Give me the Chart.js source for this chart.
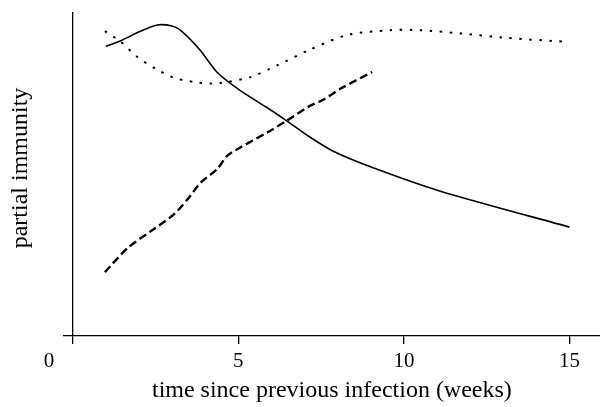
<!DOCTYPE html>
<html>
<head>
<meta charset="utf-8">
<script src="https://cdn.jsdelivr.net/npm/chart.js@4/dist/chart.umd.min.js"></script>
<style>
  html, body { margin: 0; padding: 0; background: #fff; }
  #wrap { width: 600px; height: 407px; }
</style>
</head>
<body>
<div id="wrap"><canvas id="chart"></canvas></div>
<script>
// time since previous infection (weeks) / partial immunity (arbitrary units)
const solidX = [1, 1.45, 2, 2.55, 3, 3.25, 3.85, 4.35, 5.05, 5.85, 6.45, 7.1, 7.85, 9.05, 11.1, 15];
const solidY = [89.4, 91.1, 93.9, 96, 95.7, 94.4, 88.2, 81.5, 75.8, 70.6, 66.5, 61.8, 57.1, 52, 44.7, 33.6];

const dottedX = [0.97, 1.45, 1.95, 2.5, 3.05, 3.66, 4.16, 4.66, 5.37, 6.17, 7.12, 8.28, 9.59, 10.49, 11.7, 13.1, 14.91];
const dottedY = [94.1, 90.8, 86.1, 82.5, 79.7, 78.4, 77.9, 78.4, 79.9, 83.5, 88.2, 92.9, 94.4, 94.4, 93.4, 92.0, 90.8];

const dashedX = [0.97, 1.65, 2.35, 3.05, 3.46, 3.86, 4.36, 4.66, 5.06, 5.87, 6.47, 7.12, 7.58, 8.08, 9.04];
const dashedY = [19.7, 27.1, 32.3, 37.5, 42.1, 47.3, 51.5, 55.6, 58.2, 62.8, 66.5, 70.8, 73.0, 76.3, 81.5];

const xTicks = [0, 5, 10, 15];

const font = "'Liberation Serif', 'Times New Roman', serif";

function pts(xs, ys) {
    return xs.map((x, i) => ({ x: x, y: ys[i] }));
}

new Chart(document.getElementById("chart"), {
    type: "line",
    data: {
        datasets: [
            {
                data: pts(solidX, solidY),
                borderColor: "#000",
                borderWidth: 1.6,
                tension: 0.25,
            },
            {
                data: pts(dottedX, dottedY),
                borderColor: "#000",
                borderWidth: 2,
                borderDash: [2.5, 7.5],
                tension: 0.25,
            },
            {
                data: pts(dashedX, dashedY),
                borderColor: "#000",
                borderWidth: 2.4,
                borderDash: [8, 4],
                tension: 0.25,
            },
        ],
    },
    options: {
        responsive: true,
        maintainAspectRatio: false,
        animation: false,
        layout: { padding: { top: 12, right: 0, left: 6, bottom: 5 } },
        elements: { point: { radius: 0 } },
        plugins: {
            legend: { display: false },
            tooltip: { enabled: false },
        },
        scales: {
            x: {
                type: "linear",
                min: -0.27,
                max: 15.92,
                afterBuildTicks: (scale) => {
                    scale.ticks = xTicks.map((v) => ({ value: v }));
                },
                border: { display: true, color: "#000", width: 1.3 },
                grid: {
                    color: (c) => (c.tick && c.tick.value === 0 ? "#000" : "rgba(0,0,0,0)"),
                    lineWidth: 1.3,
                    tickColor: "#000",
                    tickLength: 8,
                },
                ticks: {
                    color: "#000",
                    font: { family: font, size: 21 },
                    padding: 5,
                    maxRotation: 0,
                    callback: (v) => (v === 0 ? "0" + " ".repeat(9) : String(v)),
                },
                title: {
                    display: true,
                    text: "time since previous infection (weeks)",
                    color: "#000",
                    font: { family: font, size: 24, lineHeight: 0.95 },
                    padding: { top: 0, bottom: 0 },
                },
            },
            y: {
                min: 0,
                max: 100,
                border: { display: false },
                grid: { display: false },
                ticks: { display: false },
                title: {
                    display: true,
                    text: "  partial immunity",
                    color: "#000",
                    font: { family: font, size: 24 },
                    padding: { top: 0, bottom: 21 },
                },
            },
        },
    },
});
</script>
</body>
</html>
